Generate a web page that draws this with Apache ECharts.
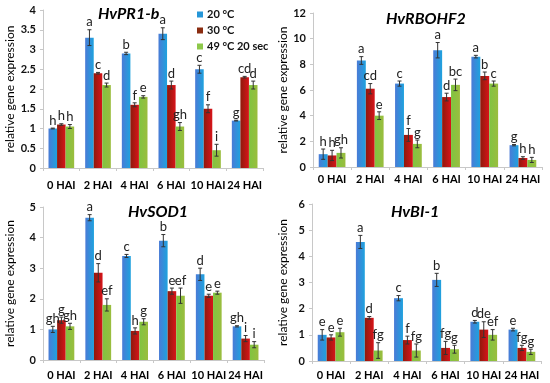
<!DOCTYPE html>
<html><head><meta charset="utf-8">
<script src="https://cdn.jsdelivr.net/npm/echarts@6/dist/echarts.min.js"></script>
<style>html,body{margin:0;padding:0;background:#fff}#c{width:550px;height:383px}</style>
</head><body><div id="c"></div>
<script>
const categories = ['0 HAI','2 HAI','4 HAI','6 HAI','10 HAI','24 HAI'];
const seriesNames = ['20 °C','30 °C','49 °C 20 sec'];
const panelTitles = ['HvPR1-b','HvRBOHF2','HvSOD1','HvBI-1'];

// HvPR1-b
const pr1_20 = [1.0, 3.3, 2.9, 3.4, 2.5, 1.2];
const pr1_30 = [1.1, 2.4, 1.6, 2.1, 1.5, 2.3];
const pr1_49 = [1.05, 2.1, 1.8, 1.05, 0.45, 2.1];
const pr1_err20 = [0.01, 0.2, 0.03, 0.15, 0.1, 0.01];
const pr1_err30 = [0.02, 0.02, 0.05, 0.1, 0.1, 0.02];
const pr1_err49 = [0.05, 0.05, 0.03, 0.1, 0.15, 0.1];
const pr1_let20 = ['h','a','b','a','c','g'];
const pr1_let30 = ['h','c','f','d','f','cd'];
const pr1_let49 = ['h','d','e','gh','i','d'];

// HvRBOHF2
const rb_20 = [1.0, 8.3, 6.5, 9.1, 8.6, 1.7];
const rb_30 = [0.9, 6.1, 2.5, 5.45, 7.1, 0.7];
const rb_49 = [1.1, 4.0, 1.8, 6.4, 6.5, 0.55];
const rb_err20 = [0.4, 0.3, 0.2, 0.6, 0.1, 0.05];
const rb_err30 = [0.4, 0.4, 0.5, 0.3, 0.3, 0.1];
const rb_err49 = [0.4, 0.3, 0.3, 0.45, 0.2, 0.2];
const rb_let20 = ['h','a','c','a','a','g'];
const rb_let30 = ['h','cd','f','d','b','h'];
const rb_let49 = ['gh','e','g','bc','c','h'];

// HvSOD1
const sod_20 = [1.0, 4.65, 3.4, 3.9, 2.8, 1.1];
const sod_30 = [1.3, 2.85, 0.95, 2.25, 2.1, 0.7];
const sod_49 = [1.1, 1.8, 1.25, 2.1, 2.2, 0.5];
const sod_err20 = [0.1, 0.1, 0.05, 0.2, 0.2, 0.02];
const sod_err30 = [0.1, 0.3, 0.1, 0.1, 0.05, 0.1];
const sod_err49 = [0.1, 0.2, 0.1, 0.25, 0.05, 0.1];
const sod_let20 = ['gh','a','c','b','d','gh'];
const sod_let30 = ['g','d','h','e','e','i'];
const sod_let49 = ['gh','ef','g','ef','e','i'];

// HvBI-1
const bi_20 = [1.0, 4.55, 2.4, 3.1, 1.5, 1.2];
const bi_30 = [0.9, 1.65, 0.8, 0.5, 1.2, 0.5];
const bi_49 = [1.1, 0.4, 0.4, 0.45, 1.0, 0.35];
const bi_err20 = [0.2, 0.25, 0.1, 0.25, 0.05, 0.05];
const bi_err30 = [0.1, 0.05, 0.15, 0.25, 0.3, 0.1];
const bi_err49 = [0.15, 0.3, 0.25, 0.15, 0.2, 0.1];
const bi_let20 = ['e','a','c','b','d','e'];
const bi_let30 = ['e','d','f','fg','de','fg'];
const bi_let49 = ['e','fg','fg','g','ef','g'];

const yMax = [4, 12, 5, 6];
const yInterval = [0.5, 2, 1, 1];

const panels = [
  {vals:[pr1_20,pr1_30,pr1_49], errs:[pr1_err20,pr1_err30,pr1_err49], lets:[pr1_let20,pr1_let30,pr1_let49]},
  {vals:[rb_20,rb_30,rb_49], errs:[rb_err20,rb_err30,rb_err49], lets:[rb_let20,rb_let30,rb_let49]},
  {vals:[sod_20,sod_30,sod_49], errs:[sod_err20,sod_err30,sod_err49], lets:[sod_let20,sod_let30,sod_let49]},
  {vals:[bi_20,bi_30,bi_49], errs:[bi_err20,bi_err30,bi_err49], lets:[bi_let20,bi_let30,bi_let49]}
];

const grids = [
  {left:43, top:10, width:220, height:158},
  {left:313, top:13, width:229, height:154},
  {left:43, top:207, width:221, height:153},
  {left:312, top:204, width:229, height:157}
];
const titlePos = [[98,6],[386,11],[128,204],[391,204]];
const labelMargins = [12, 7, 10, 9];

const FONT = 'Lato, "Open Sans", sans-serif';
const GAP = 0.3;
const barColors = [
  {type:'linear',x:0,y:0,x2:1,y2:0,colorStops:[{offset:0,color:'#4a7bd6'},{offset:1,color:'#1ea2de'}]},
  {type:'linear',x:0,y:0,x2:1,y2:0,colorStops:[{offset:0,color:'#8e1a0c'},{offset:1,color:'#d8141a'}]},
  {type:'linear',x:0,y:0,x2:1,y2:0,colorStops:[{offset:0,color:'#7fc441'},{offset:1,color:'#9bbd3e'}]}
];
const legendColors = ['#2596d8','#8a2c10','#8dc84a'];

const option = {
  animation:false,
  backgroundColor:'#fff',
  title: panelTitles.map((t,i)=>({text:t,left:titlePos[i][0],top:titlePos[i][1],padding:0,
    textStyle:{fontFamily:FONT,fontStyle:'italic',fontWeight:'bold',fontSize:16,color:'#000'}})),
  legend:{orient:'vertical',left:192,top:4,itemWidth:6,itemHeight:6,itemGap:5,
    textStyle:{fontFamily:FONT,fontWeight:'bold',fontSize:11,color:'#111',padding:[0,0,0,-1]},
    data: seriesNames.map((n,i)=>({name:n,icon:'rect',itemStyle:{color:legendColors[i]}}))},
  grid: grids,
  xAxis: grids.map((g,i)=>({type:'category',gridIndex:i,data:categories,
    axisLine:{show:true,lineStyle:{color:'#c8c8c8'}},axisTick:{show:true,length:3,lineStyle:{color:'#c8c8c8'}},
    axisLabel:{fontFamily:FONT,fontWeight:'bold',fontSize:11,color:'#000',margin:labelMargins[i],interval:0}})),
  yAxis: grids.map((g,i)=>({type:'value',gridIndex:i,min:0,max:yMax[i],interval:yInterval[i],
    name:'relative gene expression',nameLocation:'middle',nameGap:[27,24,27,23][i],
    nameTextStyle:{fontFamily:FONT,fontSize:12,color:'#000'},
    splitLine:{show:false},
    axisLine:{show:true,lineStyle:{color:'#c8c8c8'}},axisTick:{show:true,length:3,lineStyle:{color:'#c8c8c8'}},
    axisLabel:{fontFamily:FONT,fontWeight:'bold',fontSize:11,color:'#111',margin:7}})),
  series: []
};

panels.forEach((p,pi)=>{
  for(let s=0;s<3;s++){
    option.series.push({type:'bar',name:seriesNames[s],xAxisIndex:pi,yAxisIndex:pi,
      data:p.vals[s],barGap:'0%',barCategoryGap:(GAP*100)+'%',
      itemStyle:{color:barColors[s]}});
  }
  for(let s=0;s<3;s++){
    const data = p.vals[s].map((v,k)=>[k,v,p.errs[s][k],p.lets[s][k]]);
    option.series.push({type:'custom',xAxisIndex:pi,yAxisIndex:pi,data:data,z:10,silent:true,
      renderItem:(params,api)=>{
        const k=api.value(0), v=api.value(1), e=api.value(2);
        const letter = data[params.dataIndex][3];
        const band = api.size([1,0])[0];
        const bw = band*(1-GAP)/3;
        const c = api.coord([k,v]);
        const x = c[0] + (s-1)*bw;
        const yt = api.coord([k,v+e])[1];
        const yb = api.coord([k,Math.max(0,v-e)])[1];
        const st = {stroke:'#333',lineWidth:1};
        return {type:'group',children:[
          {type:'line',shape:{x1:x,y1:yt,x2:x,y2:yb},style:st},
          {type:'line',shape:{x1:x-2,y1:yt,x2:x+2,y2:yt},style:st},
          {type:'line',shape:{x1:x-2,y1:yb,x2:x+2,y2:yb},style:st},
          {type:'text',x:x,y:yt-1,style:{text:letter,textAlign:'center',textVerticalAlign:'bottom',
            font:'13px '+FONT,fill:'#222'}}
        ]};
      }});
  }
});

const chart = echarts.init(document.getElementById('c'),null,{renderer:'canvas'});
chart.setOption(option);
</script></body></html>
